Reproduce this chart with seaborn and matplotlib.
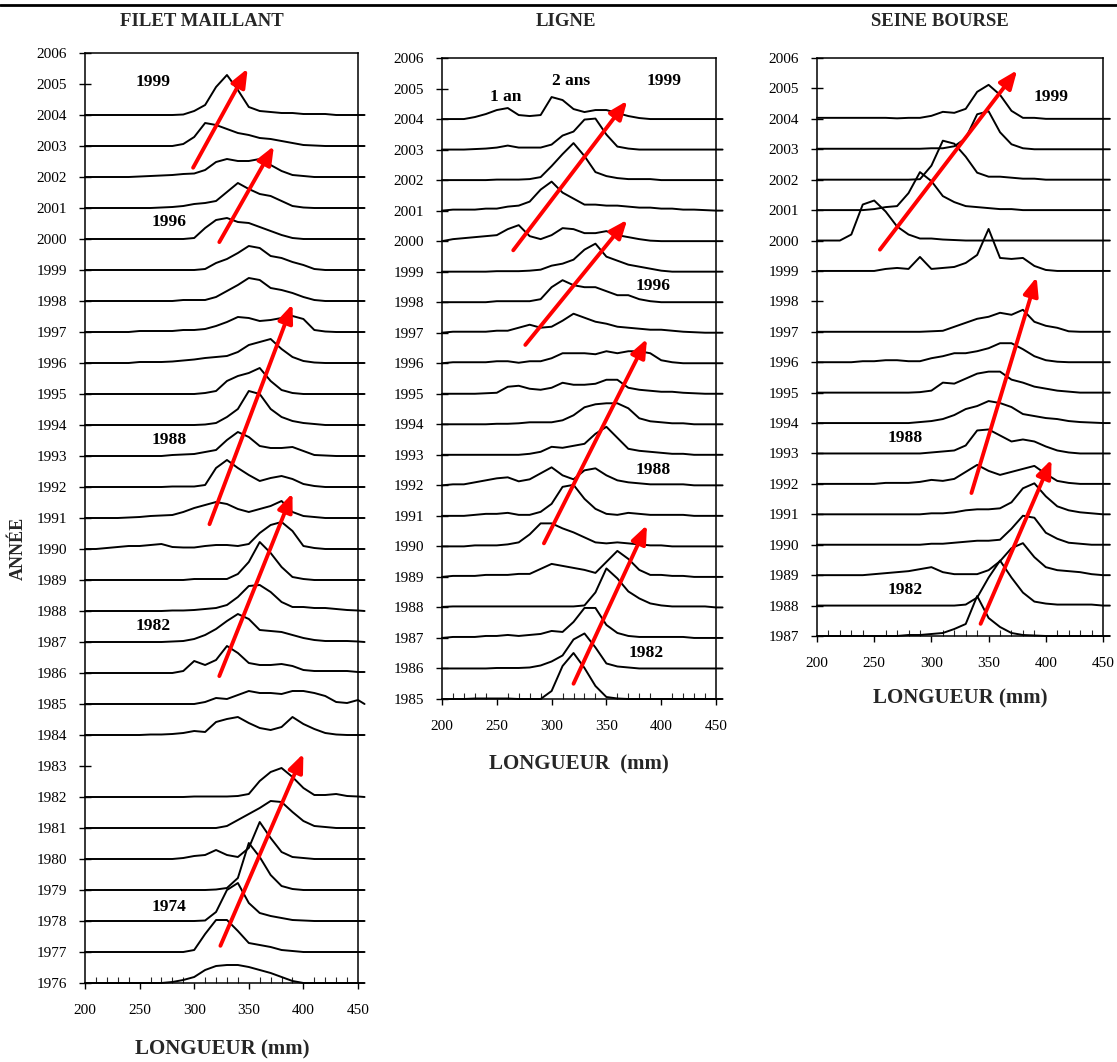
import numpy as np
import pandas as pd
import matplotlib
matplotlib.use("Agg")
import matplotlib.pyplot as plt
import seaborn as sns
from matplotlib.lines import Line2D
from matplotlib.ticker import MultipleLocator

sns.set_theme(style="ticks")
plt.rcParams["font.family"] = ["Liberation Serif", "DejaVu Serif"]
plt.rcParams["axes.linewidth"] = 1.1
plt.rcParams["axes.edgecolor"] = "black"
plt.rcParams["lines.solid_joinstyle"] = "round"
plt.rcParams["lines.solid_capstyle"] = "round"

# ---------------- data ----------------
# length classes (mm); last point is the tail just past 450 mm
LENGTHS = list(range(200, 451, 10)) + [456]

# relative frequency (height of each ridge, arbitrary units)
FILET = {
    2004: [0,0,0,0,0,0,0,0,0,0.5,4,10,28,40,25,8,4,3,2,2,1,1,1,0,0,0,0],
    2003: [0,0,0,0,0,0,0,0,0,2,9,23,21,17,13,11,8,7,5,3,1,0.5,0,0,0,0,0],
    2002: [0,0,0,0,0,0.5,1,1.5,2,3,3.5,7,15,18,16,16,18,12,6,2,1,0,0,0,0,0,0],
    2001: [0,0,0,0,0,0,0,0.5,1,2,4,5,7,16,25,19,14,12,7,2,0.5,0,0,0,0,0,0],
    2000: [0,0,0,0,0,0,0,0,0,0,1,11,19,21,17,16,12,8,4,1,0,0,0,0,0,0,0],
    1999: [0,0,0,0,0,0,0,0,0,0,0,1,7,11,17,24,22,14,12,8,5,1,0,0,0,0,0],
    1998: [0,0,0,0,0,0,0,0,0,1,1,1,4,10,16,23,21,13,11,8,4,1,0,0,0,0,0],
    1997: [0,0,0,0,0,1,1,1,1,2,2,3,6,10,15,14,11,12,14,16,13,2,0.5,0,0,0,0],
    1996: [0,0,0,0,0,1,1,1,1.5,2.5,3.5,5,6,7,11,18,21,24,14,6,2,0.5,0,0,0,0,0],
    1995: [0,0,0,0,0,0,0,0,0,0,0,1,3,13,18,21,26,13,4,1,0,0,0,0,0,0,0],
    1994: [0,0,0,0,0,0,0,0,0,0,0,0.5,2,8,16,34,31,16,8,4,2,1,0,0,0,0,0],
    1993: [0,0,0,0,0,0,0,0,1,1.5,2,4,6,16,24,19,10,8,8,9,5,1,0.5,0,0,0,0],
    1992: [0,0,0,0,0,0,0,0,0.5,0.5,0.5,2,19,27,19,12,6,9,11,8,3,1,0,0,0,0,0],
    1991: [0,0,0,0,0.5,1,2,2.5,3,6,10,13,16,14,9,6,9,12,17,6,2,1,0,0,0,0,0],
    1990: [0,0,1,2,3,3,4,5,2,1.5,1.5,3,4,4,3,5,16,24,27,18,3,1,0,0,0,0,0],
    1989: [0,0,0,0,0,0,0,0,0,0,1,1,1,1,6,18,38,27,13,3,1,0,0,0,0,0,0],
    1988: [0,0,0,0,0,0,0,0,0.5,0.5,1,2,3,6,14,25,26,19,9,4,4,3,3,2,1,0.5,0],
    1987: [0,0,0,0,0,0,0,0,0.5,1,3,7,13,21,28,23,12,11,10,7,4,2,1,1,1,0.5,0],
    1986: [0,0,0,0,0,0,0,0,0,2,12,8,13,27,20,10,8,8,9,7,3,2,2,2,2,1,1],
    1985: [0,0,0,0,0,0,0,0,0,0,0,2,6,5,9,13,11,11,10,13,13,11,8,2,1,4,0],
    1984: [0,0,0,0,0,0,0.5,0.5,1,2,4,3,13,16,18,12,7,5,8,18,11,6,2,0.5,0,0,0],
    1982: [0,0,0,0,0,0,0,0,0,0,0.5,0.5,0.5,0.5,1,3,16,25,29,20,9,2,2,3,1,0.5,0],
    1981: [0,0,0,0,0,0,0,0,0,0,0,0,0,2,8,14,20,27,26,16,7,2,1,0,0,0,0],
    1980: [0,0,0,0,0,0,0,0,0,1,3,4,9,4,2,11,37,21,7,2,1,0,0,0,0,0,0],
    1979: [0,0,0,0,0,0,0,0,0,0,0,0,0.5,2,12,47,33,15,4,1,0,0,0,0,0,0,0],
    1978: [0,0,0,0,0,0,0,0,0,0,0,0.5,9,31,38,18,8,5,3,1,0.5,0,0,0,0,0,0],
    1977: [0,0,0,0,0,0,0,0,0,0,2,18,32,32,21,9,7,5,2,1,0,0,0,0,0,0,0],
    1976: [0,0,0,0,0,0,0,0,1,3,6,13,17,18,18,16,13,10,6,2,0,0,0,0,0,0,0],
}

LIGNE = {
    2004: [0,0,0,2,5,9,11,4,3,4,22,19,10,7,9,9,6,3,1,0,0,0,0,0,0,0,0],
    2003: [0,0,0,0.5,1,2,4,2,2,2,5,14,18,30,31,15,3,1,0,0,0,0,0,0,0,0,0],
    2002: [0,0,0,0,0,0.5,0.5,0.5,1,3,14,26,37,24,8,4,2,1,1,1,0,0,0,0,0,0,0],
    2001: [0,1,1,1,2,2,4,5,9,21,29,18,12,6,6,5,5,4,3,3,2,2,1,1,0.5,0,0],
    2000: [0,2,3,4,5,6,12,16,5,2,6,13,12,8,8,10,6,4,2,0.5,0,0,0,0,0,0,0],
    1999: [0,0,0,0,0,0.5,0.5,0.5,1,2,6,8,12,22,28,15,11,7,5,3,1,0,0,0,0,0,0],
    1998: [0,0,0,0,0,1,1,1,1,3,15,22,17,15,15,11,7,7,3,1,0,0,0,0,0,0,0],
    1997: [0,1,1,1,1,2,2,5,8,5,6,12,19,15,11,9,6,5,4,3,3,2,1,0.5,0,0,0],
    1996: [0,1,1,1,1,2,2,0.5,2,2,5,10,10,10,9,12,10,12,12,10,3,1,0,0,0,0,0],
    1995: [0,0,0,0,0.5,1,7,8,5,4,6,11,9,9,10,14,14,6,4,3,2,2,1,0.5,0,0,0],
    1994: [0,0,0,0,0,0.5,0.5,1,2,2,2,4,9,17,20,21,21,16,6,3,2,1,1,0,0,0,0],
    1993: [0,0,0,0,0,0,0,0,1,3,8,7,9,11,21,28,17,6,4,3,2,1,1,0,0,0,0],
    1992: [0,1,1,3,5,7,8,4,6,12,18,10,6,15,17,10,5,3,2,1,1,1,1,0,0,0,0],
    1991: [0,0,0,1,2,2,3,1,1,4,12,29,31,17,7,2,1,3,2,1,1,1,1,0,0,0,0],
    1990: [0,0,0,1,1,1,2,4,12,23,23,18,14,9,4,3,4,3,2,1,1,0,0,0,0,0,0],
    1989: [0,1,1,1,2,2,2,3,3,8,13,11,9,7,4,15,26,18,7,2,2,1,1,0,0,0,0],
    1988: [0.5,1,1,1,1,1,1,1,1,1,1,1,1,2,15,39,29,16,9,4,2,1,1,1,1,0,0],
    1987: [0,1,1,1,2,2,3,2,3,4,7,6,16,30,30,13,5,2,1,1,1,1,1,0,0,0,0],
    1986: [0,0,0,0,0,0.5,0.5,0.5,1,3,7,13,29,35,21,5,2,1,0,0,0,0,0,0,0,0,0],
    1985: [0,0,0,0.5,0.5,0.5,0.5,0,0,0,8,33,46,31,13,2,0.5,0,0,0,0,0,0,0,0,0,0],
}

SEINE = {
    2004: [1,1,1,1,1,1,1,0.5,1,1,3,7,6,10,27,34,24,8,1,1,0,0,0,0,0,0,0],
    2003: [0.5,0.5,0.5,0.5,0.5,0.5,0.5,0.5,0.5,0.5,1,1,3,11,35,38,17,5,1,0,0,0,0,0,0,0,0],
    2002: [0,0,0,0,0,0,0,0,0,0.5,14,39,36,23,7,3,3,2,1,1,0,0,0,0,0,0,0],
    2001: [0,0,0,0,0,1,3,4,17,38,29,14,8,4,3,2,1,1,0,0,0,0,0,0,0,0,0],
    2000: [0,0,0,6,36,40,29,14,6,2,2,1,0.5,0,0,0,0,0,0,0,0,0,0,0,0,0,0],
    1999: [0,0,0,0,0,0,2,3,2,14,2,3,4,8,16,42,13,12,13,5,1,0,0,0,0,0,0],
    1997: [0,0,0,0,0,0,0,0,0,0,0.5,1,5,9,13,15,19,17,22,10,6,4,0.5,0,0,0,0],
    1996: [0,0,0,0,1,1,2,2,1,1,4,6,9,9,11,14,19,19,13,6,2,0.5,0,0,0,0,0],
    1995: [0,0,0,0,0,0,0,0,0,0.5,2,10,9,14,19,21,21,13,10,6,4,2,1,0,0,0,0],
    1994: [0,0,0,0,0,0,0,0,0,1,2,4,8,14,17,22,20,16,9,7,5,4,2,1,0.5,0,0],
    1993: [0,0,0,0,0,0,0,0,0,0,1,2,3,8,23,24,18,12,14,12,7,3,1,0,0,0,0],
    1992: [0,0,0,0,0,0,1,1,1,2,4,3,5,12,19,13,9,12,15,18,10,3,1,0,0,0,0],
    1991: [0,0,0,0,0,0,0,0,0,0,1,1,2,4,5,5,6,12,26,31,18,8,4,2,1,0,0],
    1990: [0,0,0,0,0,0,0,0,0,0,1,1,2,3,4,4,5,16,29,27,12,6,2,1,0,0,0],
    1989: [0,0,0,0,0,1,2,3,4,6,8,3,1,1,1,5,14,27,32,18,8,5,4,3,1,0,0],
    1988: [0,0,0,0,0,0,0,0,0,0,0,0,0,1,8,28,45,28,13,4,2,1,1,1,1,0,0],
    1987: [0,0,0,0,0,0,0,0,1,1,2,3,7,12,40,18,9,3,1,0.5,0,0,0,0,0,0,0],
}

# cohort arrows: (tail length, tail year, head length, head year)
ARROWS_FILET = [(299, 2002.3, 349, 2005.5), (323, 1999.9, 373, 2003.0),
                (314, 1990.8, 390, 1997.9), (323, 1985.9, 390, 1991.8),
                (324, 1977.2, 400, 1983.4)]
ARROWS_LIGNE = [(265, 1999.7, 369, 2004.6), (276, 1996.6, 369, 2000.7),
                (293, 1990.1, 387, 1996.8), (320, 1985.5, 387, 1990.7)]
ARROWS_SEINE = [(255, 1999.7, 375, 2005.6), (335, 1991.7, 392, 1998.8),
                (343, 1987.4, 405, 1992.8)]

# text labels: (length, year, text)
LABELS_FILET = [(262, 2005.05, "1999"), (277, 2000.55, "1996"), (277, 1993.5, "1988"),
                (262, 1987.5, "1982"), (277, 1978.45, "1974")]
LABELS_LIGNE = [(258, 2004.73, "1 an"), (318, 2005.26, "2 ans"), (403, 2005.26, "1999"),
                (393, 1998.54, "1996"), (393, 1992.5, "1988"), (386, 1986.5, "1982")]
LABELS_SEINE = [(405, 2004.73, "1999"), (277, 1993.5, "1988"), (277, 1988.5, "1982")]

TITLES = ["FILET MAILLANT", "LIGNE", "SEINE BOURSE"]
YEAR_RANGES = [(1976, 2006), (1985, 2006), (1987, 2006)]
XTICKS = [200, 250, 300, 350, 400, 450]

# ---------------- layout ----------------
W, H = 1117, 1062
fig = plt.figure(figsize=(W / 100, H / 100), dpi=100)

def fx(px):
    return px / W

def fy(py):
    return 1 - py / H

# axes boxes in pixels: left, right, top, bottom
boxes = [(85, 358, 53, 983), (442, 716, 58, 699), (817, 1103, 58, 636)]
row_px = [31.0, 30.52, 30.42]
datasets = [FILET, LIGNE, SEINE]
arrows = [ARROWS_FILET, ARROWS_LIGNE, ARROWS_SEINE]
labels = [LABELS_FILET, LABELS_LIGNE, LABELS_SEINE]
title_x = [202, 566, 940]
xlabel_pos = [(222, 1049, "LONGUEUR (mm)"), (579, 764, "LONGUEUR  (mm)"), (960, 698, "LONGUEUR (mm)")]

for i in range(3):
    l, r, t, b = boxes[i]
    ax = fig.add_axes([fx(l), fy(b), fx(r) - fx(l), fy(t) - fy(b)])
    ax.set_facecolor("white")
    rows = []
    for yr, vals in datasets[i].items():
        for L, v in zip(LENGTHS, vals):
            rows.append({"year": yr, "length": L, "y": yr + v / row_px[i]})
    df = pd.DataFrame(rows)
    sns.lineplot(data=df, x="length", y="y", units="year", estimator=None,
                 color="black", linewidth=1.4, ax=ax, clip_on=False,
                 legend=False, sort=False)
    lo, hi = YEAR_RANGES[i]
    ax.set_xlim(200, 450)
    ax.set_ylim(lo, hi)
    ax.set_xticks(XTICKS)
    ax.xaxis.set_minor_locator(MultipleLocator(10))
    ax.set_yticks(list(range(lo, hi + 1)))
    ax.tick_params(axis="x", which="major", direction="out", length=4, width=1.0,
                   pad=11, labelsize=11, colors="black")
    ax.tick_params(axis="x", which="minor", direction="in", length=4, width=0.8)
    ax.tick_params(axis="y", which="major", direction="inout", length=8, width=1.0,
                   pad=9, labelsize=11, colors="black")
    ax.set_xlabel("")
    ax.set_ylabel("")
    for s in ax.spines.values():
        s.set_visible(True)
        s.set_linewidth(1.1)
        s.set_color("black")
    for (x0, y0, x1, y1) in arrows[i]:
        ax.annotate("", xy=(x1, y1), xytext=(x0, y0),
                    arrowprops=dict(arrowstyle="-|>,head_length=1.1,head_width=0.45",
                                    color="#ff0000", lw=2.8, shrinkA=0, shrinkB=0,
                                    mutation_scale=10),
                    annotation_clip=False, zorder=5)
    for (x0, y0, txt) in labels[i]:
        ax.text(x0, y0, txt, ha="center", va="center", fontsize=12.5,
                fontweight="bold", color="black", zorder=6)
    fig.text(fx(title_x[i]), fy(22), TITLES[i], ha="center", va="center",
             fontsize=13.5, fontweight="bold")
    xl = xlabel_pos[i]
    fig.text(fx(xl[0]), fy(xl[1]), xl[2], ha="center", va="center",
             fontsize=15, fontweight="bold")

fig.text(fx(18), fy(548), "ANNÉE", rotation=90, ha="center", va="center",
         fontsize=13, fontweight="bold")
fig.add_artist(Line2D([0, 1], [fy(4.5), fy(4.5)], transform=fig.transFigure,
                      color="black", linewidth=2.0))

fig.savefig("out.png", dpi=100)
